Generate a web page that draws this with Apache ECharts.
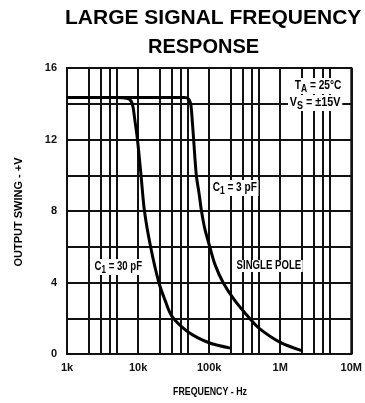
<!DOCTYPE html>
<html>
<head>
<meta charset="utf-8">
<script src="https://cdn.jsdelivr.net/npm/echarts@6/dist/echarts.min.js"></script>
<style>
  html, body { margin: 0; padding: 0; background: #fff; }
  #main { width: 365px; height: 403px; }
</style>
</head>
<body>
<div id="main"></div>
<script>
// x ticks (Hz) and their labels
var freqTicks = [1000, 10000, 100000, 1000000, 10000000];
var freqLabels = ['1k', '10k', '100k', '1M', '10M'];
// the extra vertical grid lines at 2,3,4,5 of each decade
var minorFreqs = [2000, 3000, 4000, 5000, 20000, 30000, 40000, 50000,
    200000, 300000, 400000, 500000, 2000000, 3000000, 4000000, 5000000];

// C1 = 30 pF
var c30 = [
    [1000, 14.35], [5000, 14.35], [7000, 14.3], [8000, 14.15], [8500, 13.8],
    [9000, 13.1], [9800, 12], [11000, 10], [12300, 8], [15000, 6],
    [19600, 4], [24000, 3], [30000, 2.1], [50000, 1.25],
    [100000, 0.63], [200000, 0.33]
];
// C1 = 3 pF (single pole)
var c3 = [
    [1000, 14.35], [45000, 14.35], [51000, 14.28], [55000, 14.0], [58000, 13],
    [60500, 12], [66000, 10], [72000, 9], [78000, 8], [87000, 7], [102000, 6],
    [121000, 5], [157000, 4], [229000, 3], [370000, 2], [500000, 1.45],
    [1000000, 0.65], [2000000, 0.19]
];

var font = '"Liberation Sans", Arial, sans-serif';
var subRich = { s: { fontSize: 10, fontWeight: 'bold', fontFamily: font, padding: [6, 0, 0, 0] } };

function label(text, x, y, size, sx, bg) {
    return {
        type: 'text', x: x, y: y, scaleX: sx, z: 10,
        style: {
            text: text, fill: '#000', backgroundColor: bg ? '#fff' : null, padding: [0, 2],
            font: 'bold ' + size + 'px ' + font, rich: subRich
        }
    };
}

var chart = echarts.init(document.getElementById('main'));
var option = {
    backgroundColor: '#fff',
    animation: false,
    grid: {
        left: 67, right: 10, top: 68, bottom: 49,
        show: true, borderColor: '#111', borderWidth: 2
    },
    xAxis: {
        type: 'log',
        logBase: 10,
        min: 1000,
        max: 10000000,
        axisLine: { show: true, lineStyle: { color: '#111', width: 2 } },
        axisTick: { show: false },
        splitLine: { show: true, lineStyle: { color: '#111', width: 2 } },
        axisLabel: {
            color: '#111', fontFamily: font, fontWeight: 'bold', fontSize: 11, margin: 8,
            formatter: function (v) {
                var i = freqTicks.indexOf(Math.round(v));
                return i >= 0 ? freqLabels[i] : '';
            }
        }
    },
    yAxis: {
        type: 'value',
        min: 0, max: 16, interval: 2,
        axisLine: { show: true, lineStyle: { color: '#111', width: 2 } },
        axisTick: { show: false },
        splitLine: { show: true, lineStyle: { color: '#111', width: 2 } },
        axisLabel: {
            color: '#111', fontFamily: font, fontWeight: 'bold', fontSize: 11, margin: 10,
            formatter: function (v) { return v % 4 === 0 ? String(v) : ''; }
        }
    },
    series: [
        {
            type: 'line', name: 'C1 = 30 pF', data: c30, showSymbol: false,
            smooth: 0.3,
            lineStyle: { color: '#000', width: 3 },
            markLine: {
                silent: true, symbol: 'none', label: { show: false },
                lineStyle: { color: '#111', width: 2, type: 'solid' },
                data: minorFreqs.map(function (f) { return { xAxis: f }; })
            },
            z: 5
        },
        {
            type: 'line', name: 'C1 = 3 pF', data: c3, showSymbol: false,
            smooth: 0.3,
            lineStyle: { color: '#000', width: 3 },
            z: 5
        }
    ],
    graphic: [
        { type: 'text', x: 65, y: 8, z: 10,
          style: { text: 'LARGE SIGNAL FREQUENCY', fill: '#000',
                   font: 'bold 21px ' + font } },
        { type: 'text', x: 148, y: 37, z: 10,
          style: { text: 'RESPONSE', fill: '#000',
                   font: 'bold 20px ' + font } },
        { type: 'text', x: 19, y: 212, rotation: Math.PI / 2, z: 10,
          style: { text: 'OUTPUT SWING - +V', fill: '#000', align: 'center', verticalAlign: 'middle',
                   font: 'bold 11px ' + font } },
        { type: 'text', x: 210, y: 392, scaleX: 0.8, z: 10,
          style: { text: 'FREQUENCY - Hz', fill: '#000', align: 'center', verticalAlign: 'middle',
                   font: 'bold 11px ' + font } },
        label('T{s|A} = 25°C', 293, 78, 12, 0.85, true),
        label('V{s|S} = ±15V', 288, 95, 12, 0.9, true),
        label('C{s|1} = 3 pF', 211, 180, 12, 0.84, true),
        label('C{s|1} = 30 pF', 93, 259, 12, 0.8, true),
        label('SINGLE POLE', 235, 260, 12, 0.8, true)
    ]
};
chart.setOption(option);
</script>
</body>
</html>
